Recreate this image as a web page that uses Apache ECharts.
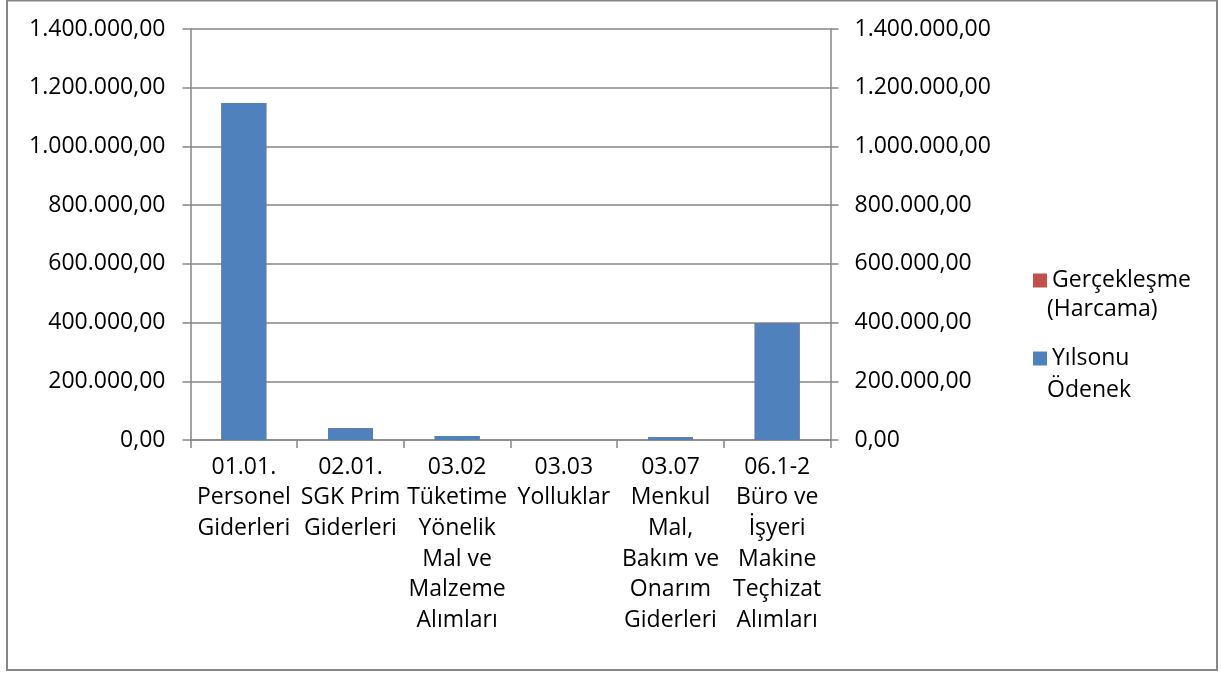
<!DOCTYPE html>
<html>
<head>
<meta charset="utf-8">
<script src="https://cdn.jsdelivr.net/npm/echarts@6/dist/echarts.min.js"></script>
<style>html,body{margin:0;padding:0;background:#fff}#c{width:1221px;height:675px}</style>
</head>
<body>
<div id="c"></div>
<script>
const categories = [
  ['01.01.', 'Personel', 'Giderleri'],
  ['02.01.', 'SGK Prim', 'Giderleri'],
  ['03.02', 'Tüketime', 'Yönelik', 'Mal ve', 'Malzeme', 'Alımları'],
  ['03.03', 'Yolluklar'],
  ['03.07', 'Menkul', 'Mal,', 'Bakım ve', 'Onarım', 'Giderleri'],
  ['06.1-2', 'Büro ve', 'İşyeri', 'Makine', 'Teçhizat', 'Alımları']
];
const seriesNames = ['Gerçekleşme (Harcama)', 'Yılsonu Ödenek'];
// Gerçekleşme bars are fully hidden behind the Ödenek bars in the picture
const gerceklesme = [1148000, 40000, 14000, 0, 9000, 398000];
const yilsonuOdenek = [1148000, 40000, 14000, 0, 9000, 398000];
const yTicks = [0, 200000, 400000, 600000, 800000, 1000000, 1200000, 1400000];

function fmt(v) {
  const s = Math.round(v).toString().replace(/\B(?=(\d{3})+(?!\d))/g, '.');
  return s + ',00';
}
const FONT = 'Open Sans';
const FS = 23;
const gray = '#868686';

const chart = echarts.init(document.getElementById('c'));
const yAxisBase = {
  type: 'value', min: yTicks[0], max: yTicks[yTicks.length - 1], interval: 200000,
  axisLine: { show: true, lineStyle: { color: gray, width: 1.5 } },
  axisTick: { show: true, length: 8, lineStyle: { color: gray, width: 1.5 } },
  splitLine: { show: true, lineStyle: { color: gray, width: 1.5 } },
  axisLabel: { formatter: fmt, color: '#000', fontFamily: FONT, fontSize: FS }
};
const txt = { fill: '#000', font: FS + 'px "' + FONT + '"', verticalAlign: 'middle' };
chart.setOption({
  animation: false,
  grid: { left: 190.5, right: 390.5, top: 29, bottom: 235, containLabel: false },
  legend: {
    orient: 'vertical', left: 1028, top: 259, itemWidth: 14, itemHeight: 14, itemGap: 45,
    icon: 'rect',
    data: seriesNames,
    formatter: n => n.split(' ')[0],
    textStyle: { color: '#000', fontFamily: FONT, fontSize: FS, lineHeight: 33 }
  },
  xAxis: {
    type: 'category',
    data: categories.map(c => c.join('\n')),
    axisLine: { show: true, lineStyle: { color: gray, width: 1.5 } },
    axisTick: { show: true, length: 8, alignWithLabel: false, lineStyle: { color: gray, width: 1.5 } },
    axisLabel: { interval: 0, color: '#000', fontFamily: FONT, fontSize: FS, lineHeight: 30.6, margin: 12 }
  },
  yAxis: [
    Object.assign({}, yAxisBase, { position: 'left', axisLabel: Object.assign({}, yAxisBase.axisLabel, { margin: 25 }) }),
    Object.assign({}, yAxisBase, { position: 'right', splitLine: { show: false }, axisLabel: Object.assign({}, yAxisBase.axisLabel, { margin: 24 }) })
  ],
  series: [
    { name: seriesNames[0], type: 'bar', yAxisIndex: 1, data: gerceklesme, barWidth: 45, barGap: '-100%', itemStyle: { color: '#C0504D' } },
    { name: seriesNames[1], type: 'bar', yAxisIndex: 0, data: yilsonuOdenek, barWidth: 45, barGap: '-100%', itemStyle: { color: '#4F81BD' } }
  ],
  graphic: [
    { type: 'rect', shape: { x: 7, y: 0.5, width: 1210, height: 669.5 }, style: { fill: 'none', stroke: gray, lineWidth: 2 }, silent: true },
    { type: 'text', x: 1047, y: 309, style: Object.assign({ text: '(Harcama)' }, txt) },
    { type: 'text', x: 1047, y: 390, style: Object.assign({ text: 'Ödenek' }, txt) }
  ]
});
</script>
</body>
</html>
